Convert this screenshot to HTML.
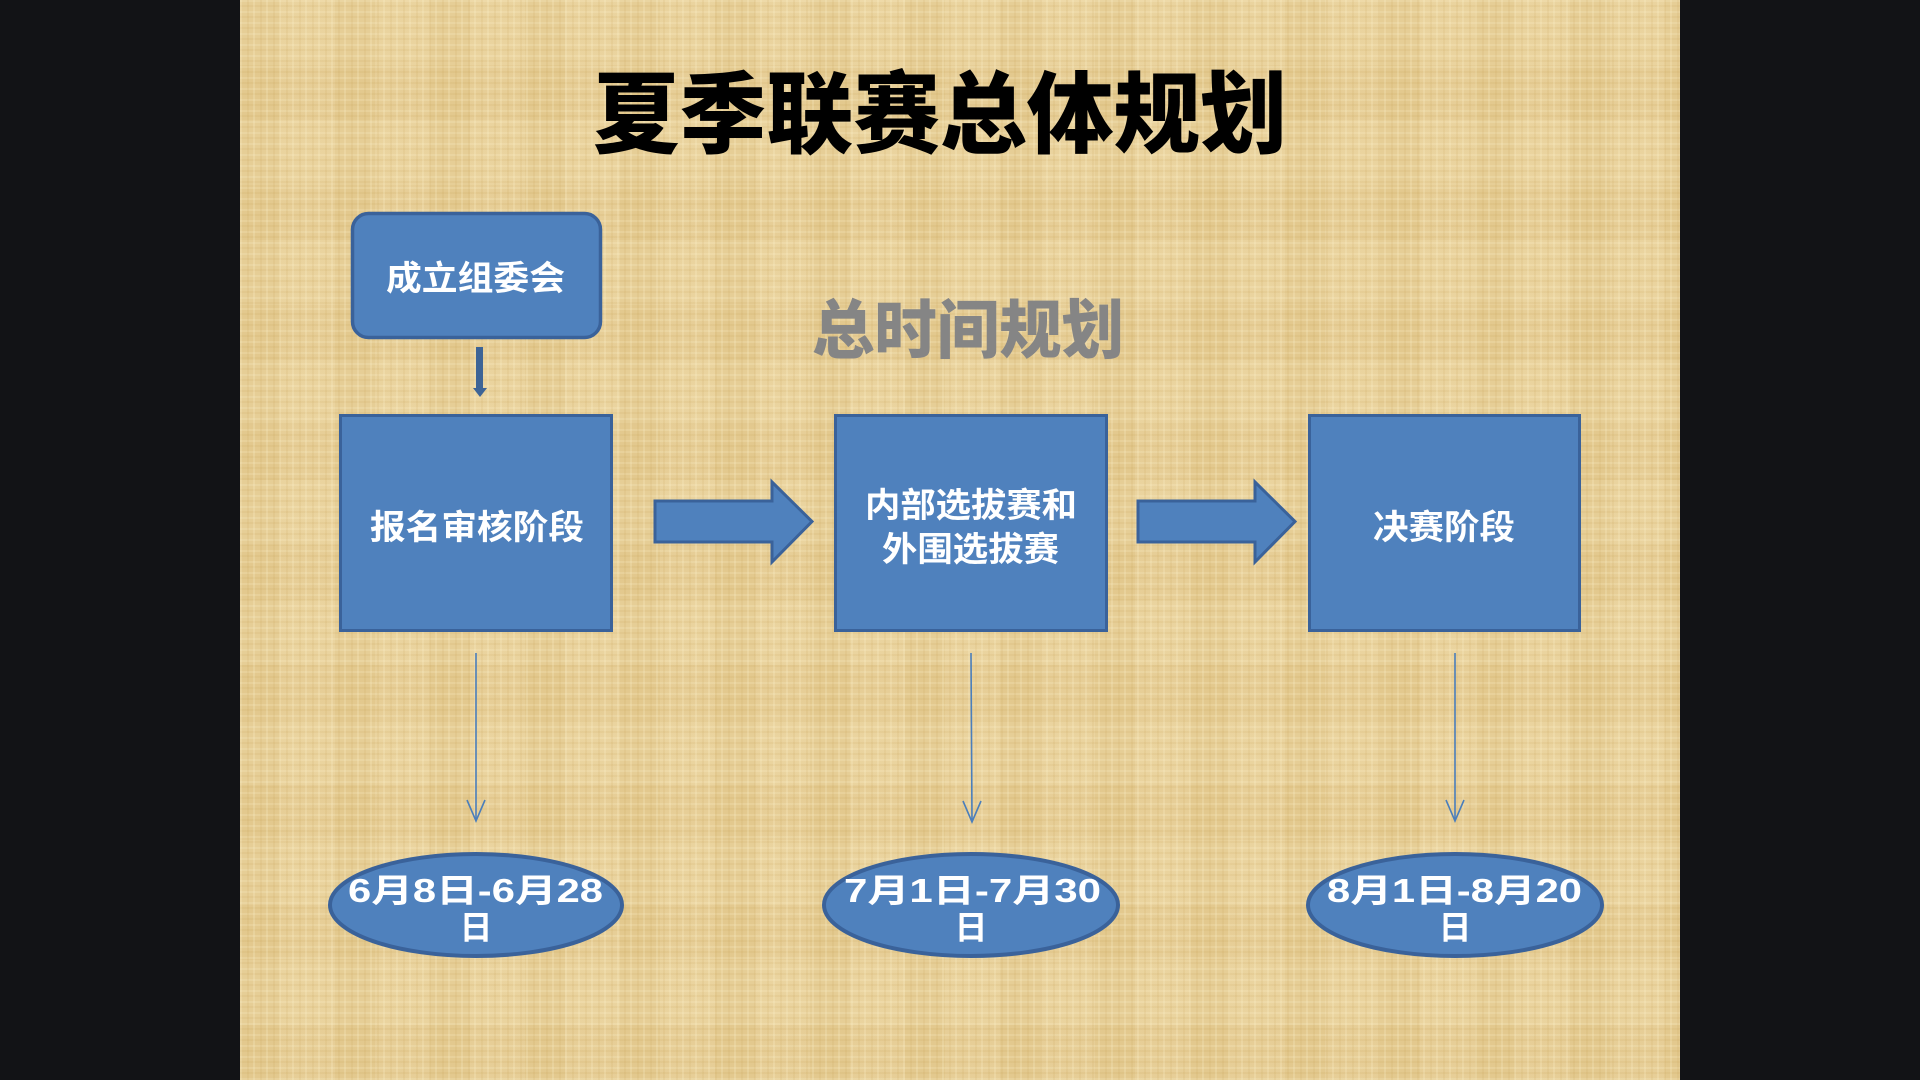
<!DOCTYPE html>
<html><head><meta charset="utf-8"><style>
html,body{margin:0;padding:0;width:1920px;height:1080px;overflow:hidden;background:#121316;}
#paper{position:absolute;left:240px;top:0;width:1440px;height:1080px;
background-color:#E7CF98;
background-image:
repeating-linear-gradient(90deg, rgba(255,245,210,0.2) 0px, rgba(255,245,210,0.2) 2px, rgba(0,0,0,0) 2px, rgba(0,0,0,0) 7px, rgba(190,150,70,0.10) 7px, rgba(190,150,70,0.10) 9px, rgba(0,0,0,0) 9px, rgba(0,0,0,0) 13px),
repeating-linear-gradient(0deg, rgba(255,245,210,0.18) 0px, rgba(255,245,210,0.18) 2px, rgba(0,0,0,0) 2px, rgba(0,0,0,0) 6px, rgba(190,150,70,0.10) 6px, rgba(190,150,70,0.10) 8px, rgba(0,0,0,0) 8px, rgba(0,0,0,0) 11px),
repeating-linear-gradient(90deg, rgba(200,160,80,0.07) 0px, rgba(200,160,80,0.07) 40px, rgba(255,240,200,0.07) 40px, rgba(255,240,200,0.07) 95px),
repeating-linear-gradient(0deg, rgba(200,160,80,0.07) 0px, rgba(200,160,80,0.07) 55px, rgba(255,240,200,0.07) 55px, rgba(255,240,200,0.07) 120px);
}
svg{position:absolute;left:0;top:0;}
text{font-family:"Liberation Sans","Noto Sans CJK SC",sans-serif;}
</style></head><body>
<div id="paper"></div>
<svg width="1920" height="1080" viewBox="0 0 1920 1080" xmlns="http://www.w3.org/2000/svg">
  <!-- Title -->
  <text x="593" y="146" font-size="89" font-weight="900" fill="#000" textLength="694" lengthAdjust="spacingAndGlyphs">夏季联赛总体规划</text>
  <!-- subtitle -->
  <text x="812" y="353" font-size="64" font-weight="900" fill="#858585" textLength="312" lengthAdjust="spacingAndGlyphs">总时间规划</text>

  <!-- 成立组委会 -->
  <rect x="352.5" y="213.5" width="248" height="124" rx="16" ry="16" fill="#4F81BD" stroke="#3A629A" stroke-width="3.5"/>
  <text x="386" y="290" font-size="34" font-weight="700" fill="#fff" textLength="179" lengthAdjust="spacingAndGlyphs">成立组委会</text>

  <!-- small connector -->
  <rect x="476" y="347" width="7" height="42" fill="#3D6496"/>
  <polygon points="473,388 487,388 480,397" fill="#3D6496"/>

  <!-- Boxes -->
  <rect x="340.5" y="415.5" width="271" height="215" fill="#4F81BD" stroke="#3A629A" stroke-width="3"/>
  <rect x="835.5" y="415.5" width="271" height="215" fill="#4F81BD" stroke="#3A629A" stroke-width="3"/>
  <rect x="1309.5" y="415.5" width="270" height="215" fill="#4F81BD" stroke="#3A629A" stroke-width="3"/>

  <text x="370" y="539" font-size="34" font-weight="700" fill="#fff" textLength="214" lengthAdjust="spacingAndGlyphs">报名审核阶段</text>
  <text x="865" y="517" font-size="34" font-weight="700" fill="#fff" textLength="212" lengthAdjust="spacingAndGlyphs">内部选拔赛和</text>
  <text x="882" y="561" font-size="34" font-weight="700" fill="#fff" textLength="177" lengthAdjust="spacingAndGlyphs">外围选拔赛</text>
  <text x="1373" y="539" font-size="34" font-weight="700" fill="#fff" textLength="142" lengthAdjust="spacingAndGlyphs">决赛阶段</text>

  <!-- block arrows -->
  <polygon points="655,501 772,501 772,482 812,521.5 772,562 772,542 655,542" fill="#4F81BD" stroke="#3A629A" stroke-width="3" stroke-linejoin="miter"/>
  <polygon points="1138,501 1255,501 1255,482 1295,521.5 1255,562 1255,542 1138,542" fill="#4F81BD" stroke="#3A629A" stroke-width="3" stroke-linejoin="miter"/>

  <!-- thin arrows -->
  <g stroke="#4A7EBB" stroke-width="1.6" fill="none">
    <line x1="476" y1="653" x2="476" y2="820"/>
    <polyline points="467,800 476,821 485,800"/>
    <line x1="971" y1="653" x2="972" y2="821"/>
    <polyline points="963,801 972,822 981,801"/>
    <line x1="1455" y1="653" x2="1455" y2="820"/>
    <polyline points="1446,800 1455,821 1464,800"/>
  </g>

  <!-- ellipses -->
  <ellipse cx="476" cy="905" rx="146" ry="51" fill="#4F81BD" stroke="#3A629A" stroke-width="4"/>
  <ellipse cx="971" cy="905" rx="147" ry="51" fill="#4F81BD" stroke="#3A629A" stroke-width="4"/>
  <ellipse cx="1455" cy="905" rx="147" ry="51" fill="#4F81BD" stroke="#3A629A" stroke-width="4"/>

  <text x="348" y="902" font-size="33" font-weight="700" fill="#fff" textLength="255" lengthAdjust="spacingAndGlyphs">6月8日-6月28</text>
  <text x="476" y="939" font-size="33" font-weight="700" fill="#fff" text-anchor="middle">日</text>
  <text x="844" y="902" font-size="33" font-weight="700" fill="#fff" textLength="257" lengthAdjust="spacingAndGlyphs">7月1日-7月30</text>
  <text x="971" y="939" font-size="33" font-weight="700" fill="#fff" text-anchor="middle">日</text>
  <text x="1327" y="902" font-size="33" font-weight="700" fill="#fff" textLength="255" lengthAdjust="spacingAndGlyphs">8月1日-8月20</text>
  <text x="1455" y="939" font-size="33" font-weight="700" fill="#fff" text-anchor="middle">日</text>
</svg>
</body></html>
